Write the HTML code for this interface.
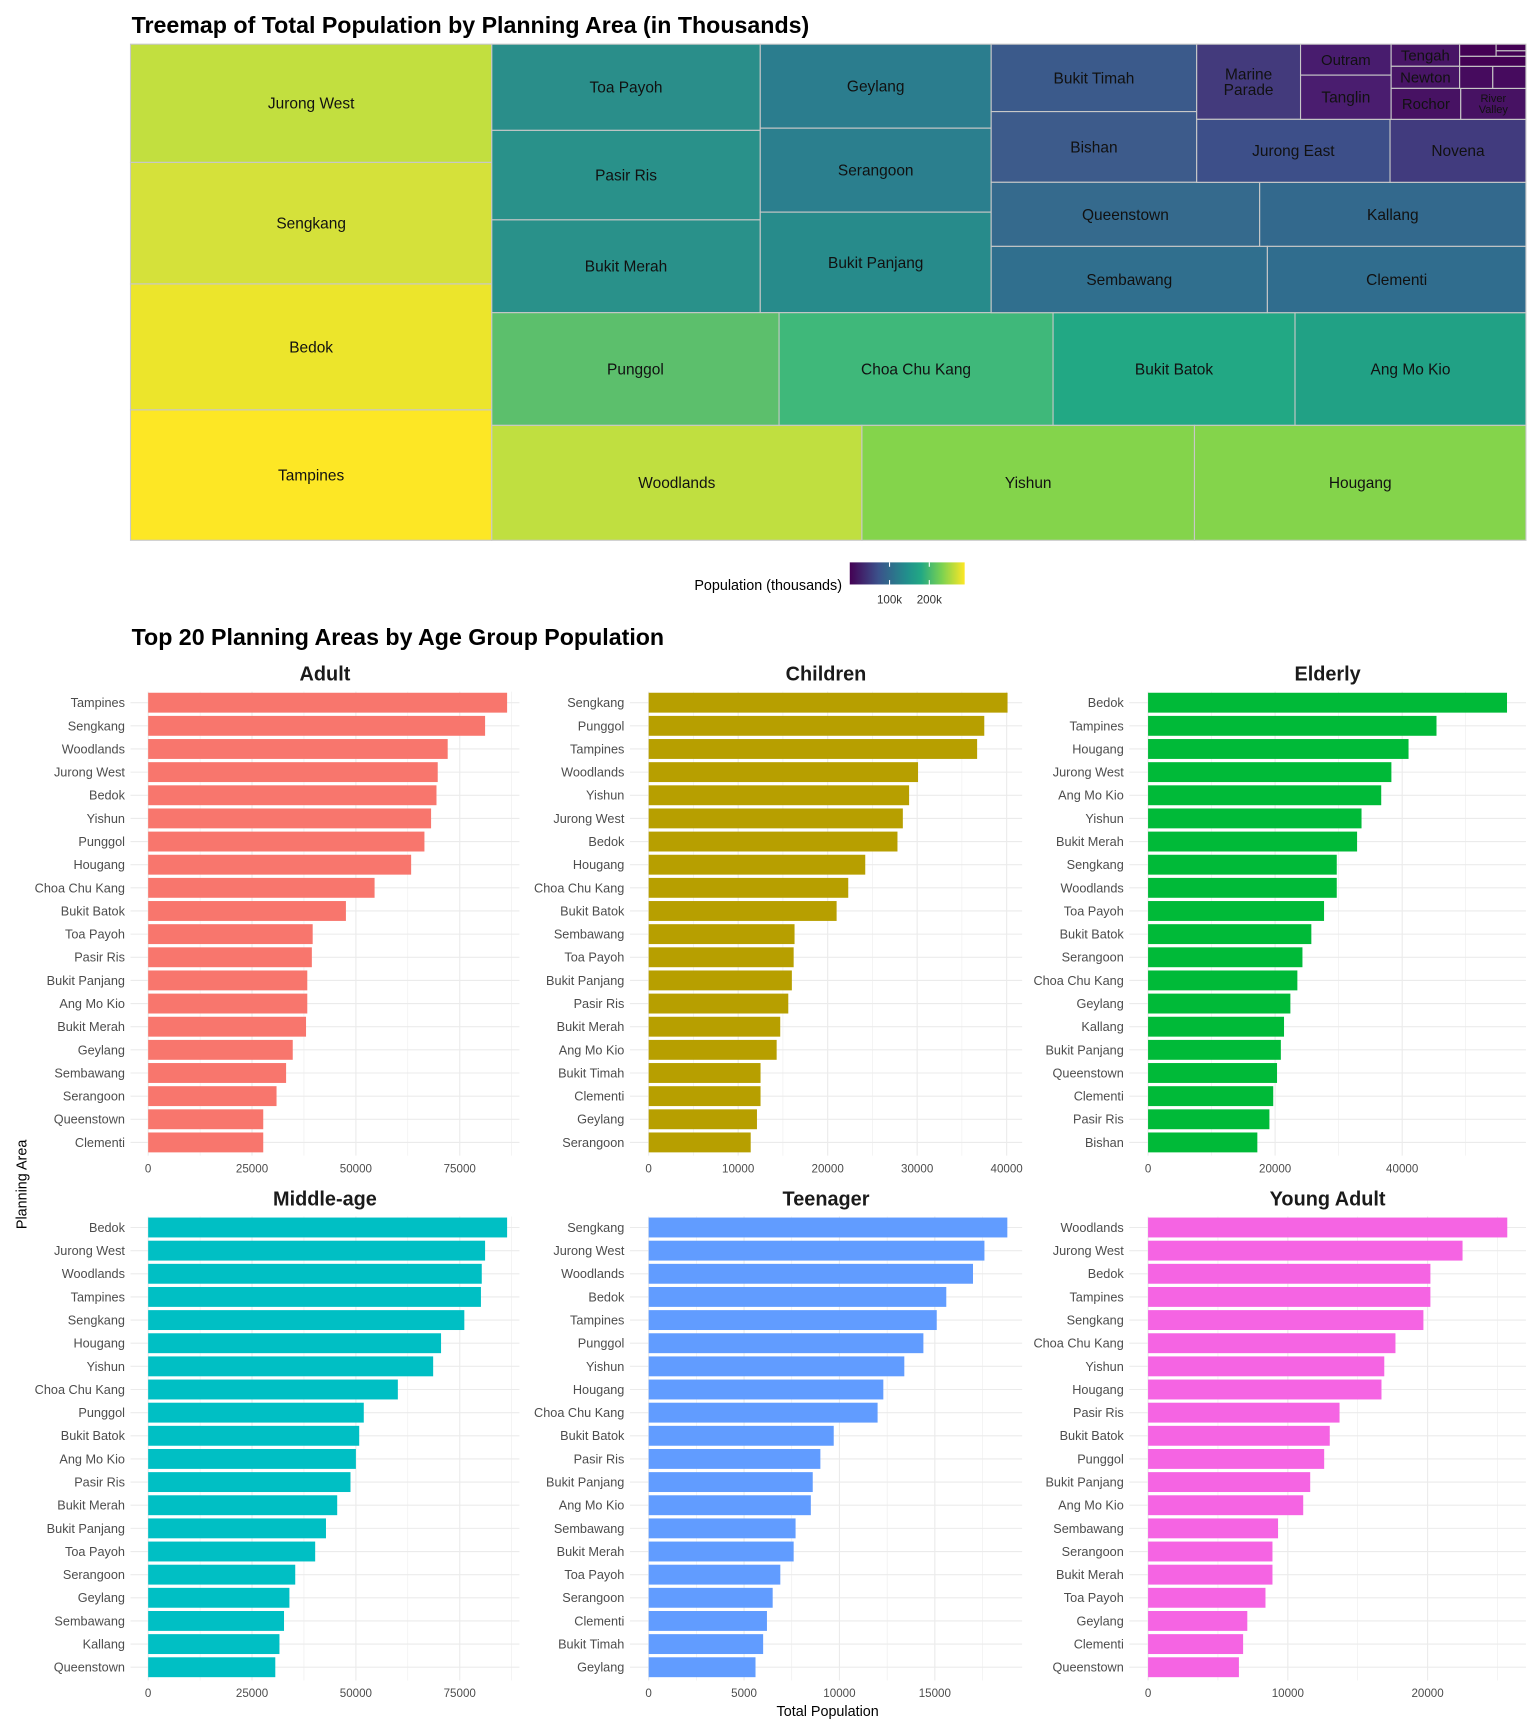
<!DOCTYPE html>
<html><head><meta charset="utf-8"><style>
html,body{margin:0;padding:0;background:#fff;}
svg{display:block;font-family:"Liberation Sans",Arial,sans-serif;}
</style></head><body>
<svg id="chart" width="1536" height="1728" viewBox="0 0 1390 1564" xmlns="http://www.w3.org/2000/svg">
<defs>
<linearGradient id="vir" x1="0" x2="1" y1="0" y2="0">
<stop offset="0" stop-color="#440154"/><stop offset="0.25" stop-color="#3b528b"/><stop offset="0.5" stop-color="#21908c"/><stop offset="0.62" stop-color="#22a884"/><stop offset="0.8" stop-color="#7ad151"/><stop offset="1" stop-color="#fde725"/>
</linearGradient>
</defs>
<text x="119" y="30" font-size="21" font-weight="bold" fill="#000">Treemap of Total Population by Planning Area (in Thousands)</text>
<g id="treemap"></g>
<g>
<text x="762" y="534" font-size="13" text-anchor="end" fill="#000">Population (thousands)</text>
<rect x="769" y="509" width="104" height="20" fill="url(#vir)"/>
<line x1="805" x2="805" y1="509" y2="513" stroke="#fff"/><line x1="805" x2="805" y1="525" y2="529" stroke="#fff"/>
<line x1="841" x2="841" y1="509" y2="513" stroke="#fff"/><line x1="841" x2="841" y1="525" y2="529" stroke="#fff"/>
<text x="805" y="546" font-size="10.5" text-anchor="middle" fill="#333">100k</text>
<text x="841" y="546" font-size="10.5" text-anchor="middle" fill="#333">200k</text>
</g>
<text x="119" y="584" font-size="21" font-weight="bold" fill="#000">Top 20 Planning Areas by Age Group Population</text>
<g id="bars"></g>
<text x="749" y="1553" font-size="13" text-anchor="middle" fill="#000">Total Population</text>
<text transform="translate(24,1072) rotate(-90)" font-size="13" text-anchor="middle" fill="#000">Planning Area</text>
</svg>
<script>
const NS="http://www.w3.org/2000/svg";
// Treemap data (approximate layout)
const tmNames=["Jurong West","Sengkang","Bedok","Tampines","Toa Payoh","Pasir Ris","Bukit Merah","Geylang","Serangoon","Bukit Panjang","Punggol","Choa Chu Kang","Bukit Batok","Ang Mo Kio","Woodlands","Yishun","Hougang","Bukit Timah","Bishan","Queenstown","Kallang","Sembawang","Clementi","Marine Parade","Jurong East","Novena","Outram","Tanglin","Tengah","Newton","Rochor","River Valley","Singapore River","Downtown Core","Area A","Area B","Area C","Area D"];
const tmColors=["#c2df3f","#d5e13a","#ece52b","#fde725","#2a8e8a","#29918a","#29918a","#2b7d8e","#2b7f8e","#278b8b","#5cbf6c","#3fb87a","#22a884","#21a185","#c0df40","#84d44b","#84d44b","#3b5a8b","#3d5b8b","#356a8d","#33698d","#306f8e","#306d8e","#433a7c","#3d4f89","#413b7e","#481c6e","#4a1d6f","#481566","#481566","#471263","#471263","#460b5e","#460b5e","#440154","#440154","#440154","#440154"];
const tmRects=[[118,40,445,147],[118,147,445,257],[118,257,445,371],[118,371,445,489],[445,40,688,118],[445,118,688,199],[445,199,688,283],[688,40,897,116],[688,116,897,192],[688,192,897,283],[445,283,705,385],[705,283,953,385],[953,283,1172,385],[1172,283,1381,385],[445,385,780,489],[780,385,1081,489],[1081,385,1381,489],[897,40,1083,101],[897,101,1083,165],[897,165,1140,223],[1140,165,1381,223],[897,223,1147,283],[1147,223,1381,283],[1083,40,1177,108],[1083,108,1258,165],[1258,108,1381,165],[1177,40,1259,68],[1177,68,1259,108],[1259,40,1321,60],[1259,60,1321,80],[1259,80,1322,108],[1322,80,1381,108],[1321,60,1351,80],[1351,60,1381,80],[1321,40,1354,51],[1354,40,1381,46],[1354,46,1381,51],[1321,51,1381,60]];
// Bar data
const panels=["Adult","Children","Elderly","Middle-age","Teenager","Young Adult"];
const panelColors=["#F8766D","#B79F00","#00BA38","#00BFC4","#619CFF","#F564E3"];
const adultAreas=["Tampines","Sengkang","Woodlands","Jurong West","Bedok","Yishun","Punggol","Hougang","Choa Chu Kang","Bukit Batok","Toa Payoh","Pasir Ris","Bukit Panjang","Ang Mo Kio","Bukit Merah","Geylang","Sembawang","Serangoon","Queenstown","Clementi"];
const adultValues=[86400,81100,72100,69700,69400,68100,66500,63300,54500,47600,39600,39400,38300,38300,38000,34800,33200,30900,27700,27700];
const childrenAreas=["Sengkang","Punggol","Tampines","Woodlands","Yishun","Jurong West","Bedok","Hougang","Choa Chu Kang","Bukit Batok","Sembawang","Toa Payoh","Bukit Panjang","Pasir Ris","Bukit Merah","Ang Mo Kio","Bukit Timah","Clementi","Geylang","Serangoon"];
const childrenValues=[40100,37500,36700,30100,29100,28400,27800,24200,22300,21000,16300,16200,16000,15600,14700,14300,12500,12500,12100,11400];
const elderlyAreas=["Bedok","Tampines","Hougang","Jurong West","Ang Mo Kio","Yishun","Bukit Merah","Sengkang","Woodlands","Toa Payoh","Bukit Batok","Serangoon","Choa Chu Kang","Geylang","Kallang","Bukit Panjang","Queenstown","Clementi","Pasir Ris","Bishan"];
const elderlyValues=[56500,45400,41000,38300,36700,33600,32900,29700,29700,27700,25700,24300,23500,22400,21400,20900,20300,19700,19100,17200];
const middleAreas=["Bedok","Jurong West","Woodlands","Tampines","Sengkang","Hougang","Yishun","Choa Chu Kang","Punggol","Bukit Batok","Ang Mo Kio","Pasir Ris","Bukit Merah","Bukit Panjang","Toa Payoh","Serangoon","Geylang","Sembawang","Kallang","Queenstown"];
const middleValues=[86400,81100,80300,80100,76100,70500,68600,60100,51900,50800,50000,48700,45500,42800,40200,35400,34000,32700,31600,30600];
const teenAreas=["Sengkang","Jurong West","Woodlands","Bedok","Tampines","Punggol","Yishun","Hougang","Choa Chu Kang","Bukit Batok","Pasir Ris","Bukit Panjang","Ang Mo Kio","Sembawang","Bukit Merah","Toa Payoh","Serangoon","Clementi","Bukit Timah","Geylang"];
const teenValues=[18800,17600,17000,15600,15100,14400,13400,12300,12000,9700,9000,8600,8500,7700,7600,6900,6500,6200,6000,5600];
const youngAreas=["Woodlands","Jurong West","Bedok","Tampines","Sengkang","Choa Chu Kang","Yishun","Hougang","Pasir Ris","Bukit Batok","Punggol","Bukit Panjang","Ang Mo Kio","Sembawang","Serangoon","Bukit Merah","Toa Payoh","Geylang","Clementi","Queenstown"];
const youngValues=[25700,22500,20200,20200,19700,17700,16900,16700,13700,13000,12600,11600,11100,9300,8900,8900,8400,7100,6800,6500];
const adultTicks=[0,25000,50000,75000];
const childrenTicks=[0,10000,20000,30000,40000];
const elderlyTicks=[0,20000,40000];
const teenTicks=[0,5000,10000,15000];
const youngTicks=[0,10000,20000];

function el(tag,attrs,parent){const e=document.createElementNS(NS,tag);for(const k in attrs)e.setAttribute(k,attrs[k]);parent.appendChild(e);return e;}

// treemap
const tm=document.getElementById('treemap');
tmRects.forEach((r,i)=>{
  const rc=el('rect',{x:r[0],y:r[1],width:r[2]-r[0],height:r[3]-r[1],fill:tmColors[i],stroke:'#c8c8c8','stroke-width':1},tm);
  
  
  const w=r[2]-r[0],h=r[3]-r[1];
  if(i>=32) return;
  let fs=14; if(h<30) fs=13.5; if(i>=32) fs=4;
  const cx=(r[0]+r[2])/2, cy=(r[1]+r[3])/2;
  let lines=[tmNames[i]];
  if(tmNames[i]==="Marine Parade") lines=["Marine","Parade"];
  if(tmNames[i]==="River Valley"){lines=["River","Valley"];fs=10;}
  if(tmNames[i]==="Singapore River"||tmNames[i]==="Downtown Core"){lines=tmNames[i].split(' ');fs=4;}
  const t=el('text',{x:cx,'font-size':fs,'text-anchor':'middle',fill:'#111'},tm);
  
  
  const lh=fs*1.0;
  lines.forEach((ln,j)=>{const ts=el('tspan',{x:cx,y:cy+fs*0.35+(j-(lines.length-1)/2)*lh},t);ts.textContent=ln;});
});

// bar facets
const bars=document.getElementById('bars');
const facetCols=[{l:118,r:470,z:134},{l:570,r:925,z:587},{l:1022,r:1381,z:1039}];
const facetData=[
 [adultAreas,adultValues,adultTicks,(416-134)/75000],
 [childrenAreas,childrenValues,childrenTicks,(911-587)/40000],
 [elderlyAreas,elderlyValues,elderlyTicks,(1269-1039)/40000],
 [middleAreas,middleValues,adultTicks,(416-134)/75000],
 [teenAreas,teenValues,teenTicks,(846-587)/15000],
 [youngAreas,youngValues,youngTicks,(1292-1039)/20000]];
facetData.forEach((fd,p)=>{
  const col=facetCols[p%3], row=Math.floor(p/3);
  const top=row?1101:626, bot=row?1521:1046, firstC=row?1111:636, step=(1509-1111)/19;
  const g=el('g',{},bars);
  
  
  const xs=v=>col.z+v*fd[3];
  const ticks=fd[2];
  // grid
  const tstep=ticks[1]-ticks[0];
  for(let v=-tstep/2; xs(v)<=col.r; v+=tstep/2){
    if(xs(v)<col.l) continue;
    const major=Math.abs(v/tstep-Math.round(v/tstep))<1e-6;
    el('line',{x1:xs(v),x2:xs(v),y1:top,y2:bot,stroke:'#ebebeb','stroke-width':major?1:0.5},g);
  }
  fd[0].forEach((a,i)=>{const y=firstC+i*step;el('line',{x1:col.l,x2:col.r,y1:y,y2:y,stroke:'#ebebeb','stroke-width':1},g);});
  // bars
  fd[0].forEach((a,i)=>{
    const y=firstC+i*step;
    const b=el('rect',{x:xs(0),y:y-9,width:xs(fd[1][i])-xs(0),height:18,fill:panelColors[p]},g);
    
    
    const t=el('text',{x:col.l-5,y:y+4,'font-size':11.5,'text-anchor':'end',fill:'#4d4d4d'},g);
    
    
    t.textContent=a;
  });
  ticks.forEach(v=>{
    const t=el('text',{x:xs(v),y:bot+15,'font-size':10.5,'text-anchor':'middle',fill:'#4d4d4d'},g);
    
    
    t.textContent=v;
  });
  const tt=el('text',{x:(col.l+col.r)/2,y:top-10,'font-size':18,'font-weight':'bold','text-anchor':'middle',fill:'#1a1a1a'},g);
  
  
  tt.textContent=panels[p];
});
</script>
</body></html>
